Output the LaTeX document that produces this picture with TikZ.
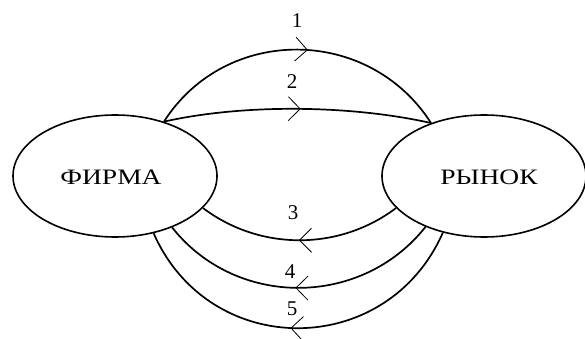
\documentclass[tikz,border=0pt]{standalone}
\usepackage{fontspec}
\setmainfont{Liberation Serif}
\usetikzlibrary{shapes.geometric,decorations.markings}
\tikzset{
  party/.style={ellipse,draw,line width=1.6pt,minimum width=204pt,minimum height=122pt,inner sep=0pt},
  label/.style={inner sep=0pt,font=\fontsize{22}{26}\selectfont},
  flow/.style={line width=1.7pt},
  num/.style={inner sep=0pt,font=\fontsize{21}{25}\selectfont},
  vmark/.style={postaction={decorate,decoration={markings,mark=at position #1 with {\draw[line width=0.8pt] (-12pt,12pt) -- (0pt,0pt) -- (-12pt,-12pt);}}}}
}
\begin{document}
\begin{tikzpicture}[x=1pt,y=-1pt]
\useasboundingbox (0,0) rectangle (585,339);
\node[party] (F) at (115,176) {};
\node[party] (R) at (484,176) {};
\node[label] (tF) at (111,177) {\scalebox{1.25}[1]{ФИРМА}};
\node[label] (tR) at (489,177) {\scalebox{1.25}[1]{РЫНОК}};
\draw[flow,vmark=0.53] (F.48) .. controls +(62,-97) and +(-62,-97) .. (R.135);
\draw[flow,vmark=0.51] (F.48) .. controls +(80,-18) and +(-80,-18) .. (R.135);
\draw[flow,vmark=0.5] (R.200) .. controls +(-57,43) and +(57,43) .. (F.-20);
\draw[flow,vmark=0.51] (R.221) .. controls +(-64,81) and +(64,81) .. (F.-42);
\draw[flow,vmark=0.52] (R.234) .. controls +(-56,127) and +(56,127) .. (F.-56);
\node[num] (n1) at (297,21) {1};
\node[num] (n2) at (292,82) {2};
\node[num] (n3) at (293,213) {3};
\node[num] (n4) at (290,272) {4};
\node[num] (n5) at (292,309) {5};
\end{tikzpicture}
\end{document}
